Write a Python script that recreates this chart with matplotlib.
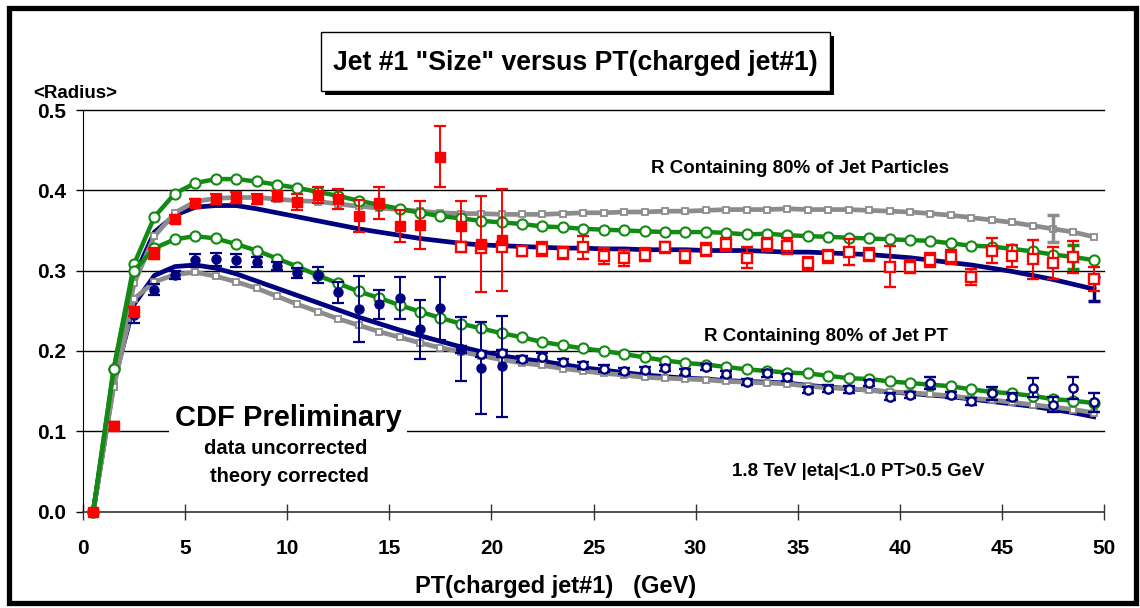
import matplotlib
matplotlib.use('Agg')
import matplotlib.pyplot as plt
from matplotlib.patches import Rectangle
import numpy as np

plt.rcParams['font.family'] = ['Liberation Sans', 'DejaVu Sans']
plt.rcParams['font.weight'] = 'bold'

#---------data--------------------------------
pt_bins = np.arange(0.5, 50.0, 1.0)   # 0.5 ... 49.5
pt_lo = pt_bins[:21]                  # 0.5 ... 20.5 (min-bias data)
pt_hi = pt_bins[18:]                  # 18.5 ... 49.5 (jet20 data)

# R containing 80% of jet particles
part_gray = [0, 0.157, 0.284, 0.343, 0.372, 0.386, 0.390, 0.391, 0.391, 0.389,
             0.387, 0.386, 0.383, 0.380, 0.378, 0.376, 0.374, 0.372, 0.371, 0.371,
             0.370, 0.370, 0.370, 0.371, 0.372, 0.372, 0.373, 0.373, 0.374, 0.374,
             0.375, 0.376, 0.376, 0.376, 0.377, 0.376, 0.376, 0.376, 0.375, 0.374,
             0.373, 0.371, 0.369, 0.366, 0.363, 0.360, 0.356, 0.352, 0.348, 0.342]
part_green = [0, 0.177, 0.308, 0.367, 0.396, 0.409, 0.414, 0.414, 0.411, 0.407,
              0.403, 0.398, 0.393, 0.387, 0.382, 0.377, 0.372, 0.368, 0.365, 0.362,
              0.360, 0.358, 0.355, 0.354, 0.352, 0.351, 0.350, 0.349, 0.348, 0.348,
              0.348, 0.347, 0.345, 0.346, 0.344, 0.343, 0.342, 0.341, 0.340, 0.339,
              0.338, 0.337, 0.334, 0.331, 0.330, 0.327, 0.324, 0.320, 0.317, 0.313]
part_navy = [0, 0.160, 0.292, 0.348, 0.369, 0.379, 0.381, 0.381, 0.377, 0.372,
             0.367, 0.362, 0.357, 0.352, 0.348, 0.344, 0.340, 0.337, 0.334, 0.332,
             0.331, 0.330, 0.329, 0.328, 0.328, 0.327, 0.327, 0.326, 0.326, 0.326,
             0.325, 0.325, 0.325, 0.324, 0.323, 0.323, 0.322, 0.321, 0.320, 0.318,
             0.316, 0.313, 0.310, 0.307, 0.303, 0.299, 0.294, 0.289, 0.283, 0.277]
part_data_lo = [0, 0.107, 0.249, 0.321, 0.364, 0.384, 0.389, 0.391, 0.389, 0.393,
                0.386, 0.394, 0.389, 0.368, 0.384, 0.355, 0.357, 0.442, 0.355, 0.333, 0.338]
part_err_lo = [0, 0.005, 0.006, 0.007, 0.005, 0.005, 0.006, 0.007, 0.006, 0.006,
               0.010, 0.010, 0.012, 0.020, 0.020, 0.020, 0.030, 0.038, 0.032, 0.060, 0.064]
part_data_hi = [0.330, 0.328, 0.330, 0.324, 0.327, 0.322, 0.329, 0.318, 0.316, 0.320,
                0.329, 0.318, 0.326, 0.333, 0.316, 0.333, 0.331, 0.309, 0.318, 0.323,
                0.320, 0.305, 0.305, 0.313, 0.317, 0.292, 0.325, 0.318, 0.314, 0.309,
                0.317, 0.290]
part_err_hi = [0.005, 0.005, 0.005, 0.006, 0.009, 0.008, 0.014, 0.010, 0.010, 0.008,
               0.007, 0.008, 0.008, 0.008, 0.013, 0.008, 0.010, 0.008, 0.008, 0.016,
               0.008, 0.026, 0.008, 0.009, 0.009, 0.010, 0.015, 0.014, 0.024, 0.020,
               0.020, 0.015]

# R containing 80% of jet PT
ptfr_gray = [0, 0.155, 0.265, 0.286, 0.295, 0.298, 0.293, 0.286, 0.278, 0.268,
             0.258, 0.249, 0.240, 0.232, 0.224, 0.217, 0.210, 0.204, 0.199, 0.194,
             0.189, 0.185, 0.182, 0.178, 0.175, 0.172, 0.170, 0.167, 0.166, 0.165,
             0.164, 0.162, 0.161, 0.160, 0.159, 0.156, 0.154, 0.153, 0.151, 0.149,
             0.148, 0.146, 0.144, 0.141, 0.139, 0.136, 0.133, 0.130, 0.127, 0.123]
ptfr_green = [0, 0.177, 0.300, 0.328, 0.339, 0.343, 0.340, 0.333, 0.325, 0.315,
              0.305, 0.294, 0.284, 0.274, 0.266, 0.257, 0.249, 0.241, 0.234, 0.228,
              0.222, 0.217, 0.211, 0.207, 0.203, 0.200, 0.196, 0.192, 0.188, 0.185,
              0.183, 0.180, 0.177, 0.175, 0.173, 0.172, 0.169, 0.166, 0.165, 0.162,
              0.160, 0.158, 0.156, 0.152, 0.149, 0.147, 0.144, 0.140, 0.138, 0.135]
ptfr_navy = [0, 0.160, 0.258, 0.294, 0.305, 0.307, 0.303, 0.296, 0.287, 0.278,
             0.269, 0.260, 0.251, 0.242, 0.234, 0.226, 0.219, 0.212, 0.205, 0.199,
             0.194, 0.190, 0.187, 0.183, 0.179, 0.176, 0.173, 0.170, 0.168, 0.166,
             0.165, 0.163, 0.162, 0.161, 0.160, 0.157, 0.155, 0.153, 0.151, 0.149,
             0.147, 0.145, 0.143, 0.140, 0.137, 0.134, 0.131, 0.127, 0.123, 0.118]
ptfr_data_lo = [0, 0.107, 0.245, 0.276, 0.294, 0.313, 0.314, 0.313, 0.311, 0.306,
                0.297, 0.294, 0.273, 0.252, 0.258, 0.266, 0.227, 0.253, 0.202, 0.179, 0.181]
ptfr_err_lo = [0, 0.005, 0.010, 0.007, 0.005, 0.008, 0.008, 0.008, 0.006, 0.005,
               0.006, 0.010, 0.013, 0.041, 0.018, 0.026, 0.037, 0.039, 0.040, 0.057, 0.063]
ptfr_data_hi = [0.202, 0.196, 0.197, 0.190, 0.193, 0.186, 0.182, 0.178, 0.175, 0.176,
                0.179, 0.174, 0.180, 0.171, 0.161, 0.172, 0.167, 0.151, 0.153, 0.152,
                0.160, 0.143, 0.145, 0.160, 0.145, 0.137, 0.147, 0.143, 0.154, 0.133,
                0.154, 0.136]
ptfr_err_hi = [0.004] * 23 + [0.008, 0.004, 0.004, 0.008, 0.004, 0.012, 0.009, 0.014, 0.012]

# a few theory points that carry error bars
theory_err_x = [47.5, 48.5, 49.5]
theory_err_y = [0.352, 0.317, 0.277]
theory_err = [0.017, 0.015, 0.015]

x_ticks = list(range(0, 51, 5))
y_ticks = [0.0, 0.1, 0.2, 0.3, 0.4, 0.5]

#---------colours-----------
GRAY = '#8c8c8c'
GREEN = '#138a13'
NAVY = '#000080'
RED = '#ff0000'

W, H = 1140, 608
def fx(px):
    return px / W
def fy(py):
    return 1 - py / H

fig = plt.figure(figsize=(W / 100, H / 100), dpi=100)
ax = fig.add_axes([fx(83), fy(511.5), fx(1104) - fx(83), fy(110) - fy(511.5)])

#---------theory curves-----------
for yv in (part_navy, ptfr_navy):
    ax.plot(pt_bins, yv, color=NAVY, lw=3.4, zorder=3, clip_on=False)
for yv in (part_gray, ptfr_gray):
    ax.plot(pt_bins, yv, color=GRAY, lw=3.4, marker='s', ms=4.5, mfc='white',
            mec=GRAY, mew=1.3, zorder=4, clip_on=False)
for yv in (part_green, ptfr_green):
    ax.plot(pt_bins, yv, color=GREEN, lw=3.2, marker='o', ms=7.3, mfc='white',
            mec=GREEN, mew=1.5, zorder=5, clip_on=False)

for xe, ye, ee, c in zip(theory_err_x, theory_err_y, theory_err, [GRAY, GREEN, NAVY]):
    ax.errorbar([xe], [ye], yerr=[ee], fmt='none', ecolor=c, elinewidth=2.5,
                capsize=4, capthick=2.5, zorder=4.5)

#---------data-----------
ax.errorbar(pt_hi, ptfr_data_hi, yerr=ptfr_err_hi, fmt='o', ms=6, mfc='white',
            mec=NAVY, mew=1.7, color=NAVY, ecolor=NAVY, elinewidth=1.4,
            capsize=4, capthick=1.6, zorder=6)
ax.errorbar(pt_lo, ptfr_data_lo, yerr=ptfr_err_lo, fmt='o', ms=6.5, color=NAVY,
            ecolor=NAVY, elinewidth=1.4, capsize=4, capthick=1.6, zorder=6)
ax.errorbar(pt_hi, part_data_hi, yerr=part_err_hi, fmt='s', ms=7, mfc='white',
            mec=RED, mew=1.7, color=RED, ecolor=RED, elinewidth=1.4,
            capsize=4, capthick=1.6, zorder=7)
ebar = ax.errorbar(pt_lo, part_data_lo, yerr=part_err_lo, fmt='s', ms=7.5, color=RED,
                   ecolor=RED, elinewidth=1.4, capsize=4, capthick=1.6, zorder=7)
ebar.lines[0].set_clip_on(False)

#---------axes styling-----------
ax.set_xlim(0, 50)
ax.set_ylim(0, 0.5)
ax.set_xticks(x_ticks)
ax.set_yticks(y_ticks)
ax.set_yticklabels(['%.1f' % v for v in y_ticks])
ax.spines['top'].set_visible(False)
ax.spines['right'].set_visible(False)
ax.spines['left'].set_color('black')
ax.spines['bottom'].set_color('#333333')
ax.spines['bottom'].set_linewidth(1.2)
ax.tick_params(axis='x', direction='inout', length=11, width=1, pad=14,
               labelsize=15, color='#333333')
ax.tick_params(axis='y', direction='out', length=5, width=1, pad=7,
               labelsize=15)
for lab in ax.get_xticklabels() + ax.get_yticklabels():
    lab.set_fontweight('bold')
for yv in y_ticks[1:]:
    ax.axhline(yv, color='black', lw=1.0, zorder=0.5, clip_on=False)

#---------texts-----------
fig.text(fx(33), fy(93), '<Radius>', fontsize=13.5, fontweight='bold',
         ha='left', va='center')
fig.text(fx(556), fy(586), 'PT(charged jet#1)   (GeV)', fontsize=17,
         fontweight='bold', ha='center', va='center')
fig.text(fx(800), fy(168), 'R Containing 80% of Jet Particles', fontsize=13.5,
         fontweight='bold', ha='center', va='center')
fig.text(fx(826), fy(336), 'R Containing 80% of Jet PT', fontsize=13.5,
         fontweight='bold', ha='center', va='center')
fig.text(fx(858), fy(471), '1.8 TeV |eta|<1.0 PT>0.5 GeV', fontsize=13.5,
         fontweight='bold', ha='center', va='center')
fig.text(fx(288), fy(418), 'CDF Preliminary', fontsize=21, fontweight='bold',
         ha='center', va='center', zorder=10,
         bbox=dict(facecolor='white', edgecolor='none', pad=4))
fig.text(fx(286), fy(449), 'data uncorrected', fontsize=14.5, fontweight='bold',
         ha='center', va='center')
fig.text(fx(289), fy(476), 'theory corrected', fontsize=14.5, fontweight='bold',
         ha='center', va='center')

# title box with drop shadow
bx0, bx1, by0, by1 = 321, 830, 32, 91
fig.patches.append(Rectangle((fx(bx0 + 4), fy(by1 + 4)), fx(bx1) - fx(bx0),
                             fy(by0) - fy(by1), transform=fig.transFigure,
                             facecolor='black', edgecolor='none', zorder=1))
fig.patches.append(Rectangle((fx(bx0), fy(by1)), fx(bx1) - fx(bx0),
                             fy(by0) - fy(by1), transform=fig.transFigure,
                             facecolor='white', edgecolor='black', lw=1, zorder=2))
fig.text(fx((bx0 + bx1) / 2), fy((by0 + by1) / 2 + 1),
         'Jet #1 "Size" versus PT(charged jet#1)', fontsize=19.2,
         fontweight='bold', ha='center', va='center', zorder=3)

# outer frame
fig.patches.append(Rectangle((fx(8.5), fy(603)), fx(1136) - fx(8.5),
                             fy(7.5) - fy(603), transform=fig.transFigure,
                             fill=False, edgecolor='black', lw=3.8, zorder=0))

fig.savefig('out.png', dpi=100)
